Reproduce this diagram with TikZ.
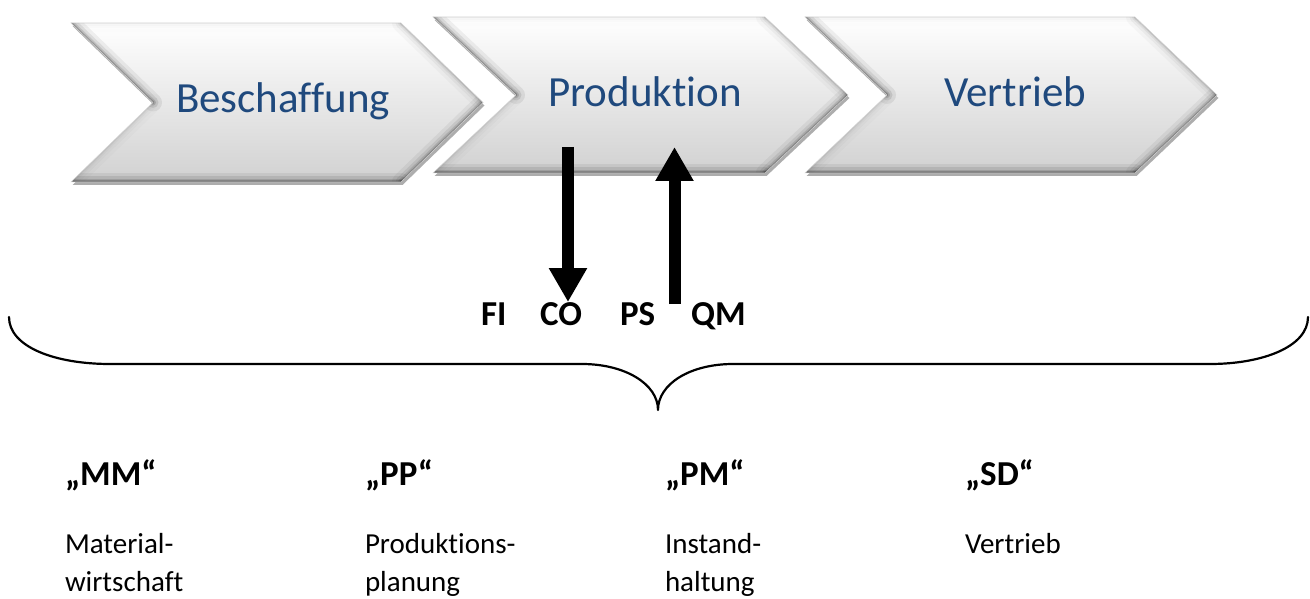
\documentclass[tikz,border=0pt]{standalone}
\usepackage{fontspec}
\setmainfont[Ligatures=NoCommon]{Carlito}
\usetikzlibrary{arrows.meta}
\definecolor{chevtext}{RGB}{31,73,125}

% outline of a chevron from its six named corner coordinates
\newcommand\chevronpath[1]{(#1-tl) -- (#1-tr) -- (#1-tip) -- (#1-br) -- (#1-bl) -- (#1-nt) -- cycle}

% soft darkened band along one edge (clipped to the chevron outside)
\newcommand\edgeband[3]{%
  \foreach \w/\o in {18/0.035, 11/0.05, 6/0.07, 3/0.10, 1.2/0.14}{%
    \pgfmathsetmacro\oo{\o*#3}%
    \draw[line width=\w pt, draw opacity=\oo, line cap=round] (#1) -- (#2);
  }%
}

% bevelled chevron: name, left x, top y, bottom y, body width, point depth
\newcommand\chevron[6]{%
  \coordinate (#1-tl)  at (#2,#3);
  \coordinate (#1-tr)  at ({#2+#5},#3);
  \coordinate (#1-tip) at ({#2+#5+#6},{(#3+#4)/2});
  \coordinate (#1-br)  at ({#2+#5},#4);
  \coordinate (#1-bl)  at (#2,#4);
  \coordinate (#1-nt)  at ({#2+#6},{(#3+#4)/2});
  \fill[black, opacity=.32, transform canvas={xshift=1.5pt, yshift=-3pt}] \chevronpath{#1};
  \shade[top color=white, middle color=white!99!black, bottom color=black!18] \chevronpath{#1};
  \begin{scope}
    \clip \chevronpath{#1};
    \edgeband{#1-tl}{#1-tr}{0.2}
    \edgeband{#1-tl}{#1-nt}{1.6}
    \edgeband{#1-nt}{#1-bl}{0.4}
    \edgeband{#1-tr}{#1-tip}{0.8}
    \edgeband{#1-tip}{#1-br}{1.5}
    \edgeband{#1-br}{#1-bl}{1.7}
  \end{scope}
  \draw[black!16, line width=0.5pt] \chevronpath{#1};
}

\begin{document}
\begin{tikzpicture}[x=1pt, y=-1pt,
  every node/.style={inner sep=0pt, outer sep=0pt},
  chevlabel/.style={font=\fontsize{43}{50}\selectfont, text=chevtext, anchor=base},
  modlabel/.style={font=\bfseries\fontsize{35}{40}\selectfont, anchor=base west},
  hdr/.style={font=\bfseries\fontsize{35}{40}\selectfont, anchor=base west},
  body/.style={font=\fontsize{29}{36}\selectfont, anchor=base west},
  flow/.style={line width=12pt, -{Triangle[width=36pt, length=34pt]}},
  bracestyle/.style={line width=2.2pt, line cap=round, line join=round}]

  \fill[white] (0,0) rectangle (1310,599);
  \useasboundingbox (0,0) rectangle (1310,599);

  % process chain
  \chevron{c1}{71}{23}{182}{330}{82}
  \chevron{c2}{433}{17}{173}{332}{83}
  \chevron{c3}{805}{17}{173}{330}{82}

  \node[chevlabel] (beschaffung) at (283,113) {Beschaffung};
  \node[chevlabel] (produktion)  at (645,107) {Produktion};
  \node[chevlabel] (vertrieb)    at (1015,107) {Vertrieb};

  % cross-module labels
  \node[modlabel] (fi) at (481,325) {FI};
  \node[modlabel] (co) at (540,325) {CO};
  \node[modlabel] (ps) at (620,325) {PS};
  \node[modlabel] (qm) at (691,325) {QM};

  % flows between production and the cross modules
  \coordinate (dn-s) at (568,147);
  \coordinate (up-s) at (674.5,304);
  \coordinate (up-e) at (674.5,147);
  \draw[flow] (dn-s) -- (co.north -| dn-s);
  \draw[flow] (up-s) -- (up-e);

  % curly brace
  \draw[bracestyle] (9,317) .. controls (9,347) and (55,364) .. (110,364)
    -- (582,364) .. controls (625,364) and (658,384) .. (658,410)
    .. controls (658,384) and (690,364) .. (733,364)
    -- (1210,364) .. controls (1262,364) and (1308,347) .. (1308,317);

  % logistics modules
  \node[hdr]  (mm)  at (65,485)  {„MM“};
  \node[body] (mm1) at (65,553)  {Material-};
  \node[body] (mm2) at (65,591)  {wirtschaft};

  \node[hdr]  (pp)  at (365,485) {„PP“};
  \node[body] (pp1) at (365,553) {Produktions-};
  \node[body] (pp2) at (365,591) {planung};

  \node[hdr]  (pm)  at (665,485) {„PM“};
  \node[body] (pm1) at (665,553) {Instand-};
  \node[body] (pm2) at (665,591) {haltung};

  \node[hdr]  (sd)  at (965,485) {„SD“};
  \node[body] (sd1) at (965,553) {Vertrieb};
\end{tikzpicture}
\end{document}
